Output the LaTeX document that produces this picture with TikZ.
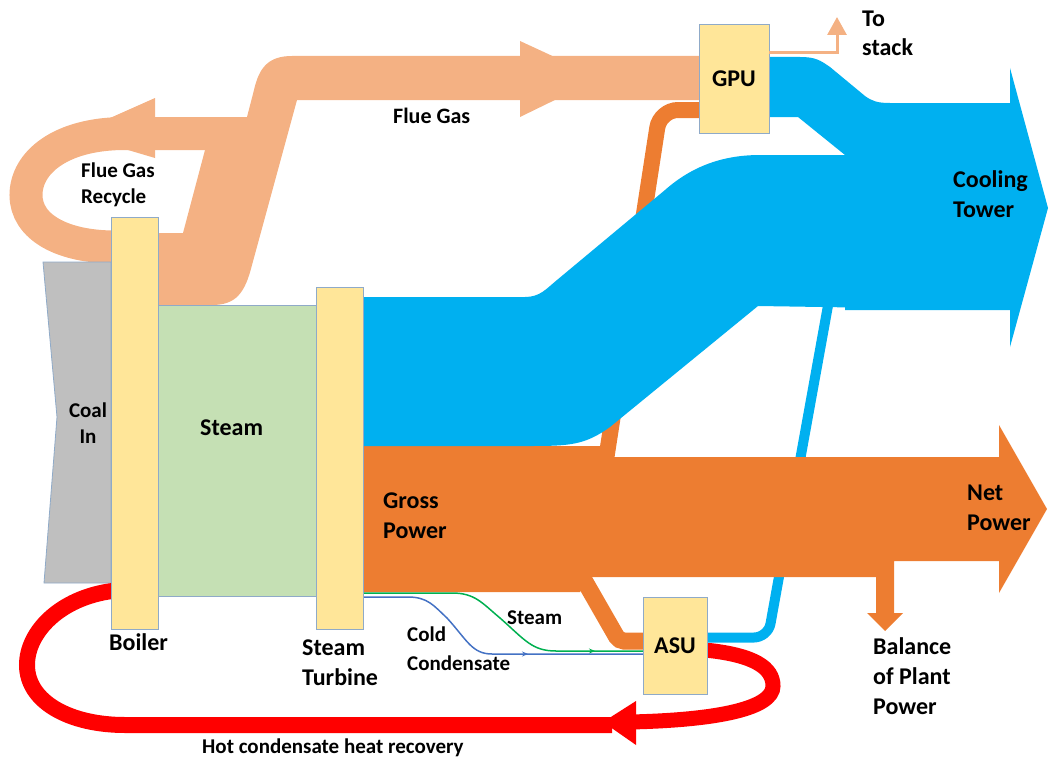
\documentclass[tikz,border=0pt]{standalone}
\usepackage{fontspec}
\setmainfont{Carlito}
\usetikzlibrary{arrows.meta,decorations.markings}
\definecolor{peach}{RGB}{244,177,131}
\definecolor{pwr}{RGB}{237,125,49}
\definecolor{cool}{RGB}{0,176,240}
\definecolor{boxy}{RGB}{255,230,153}
\definecolor{stm}{RGB}{197,224,180}
\definecolor{coalgray}{RGB}{191,191,191}
\definecolor{edge}{RGB}{143,170,200}
\definecolor{hotred}{RGB}{255,0,0}
\definecolor{gline}{RGB}{0,176,80}
\definecolor{bline}{RGB}{68,114,196}
\begin{document}
\begin{tikzpicture}[x=1pt,y=-1pt,
  lbl/.style={inner sep=0pt, anchor=base west, font=\bfseries\fontsize{24}{28}\selectfont},
  slbl/.style={inner sep=0pt, anchor=base west, font=\bfseries\fontsize{21}{25}\selectfont},
  unit/.style={draw=edge, line width=0.8pt, fill=boxy, inner sep=0pt, font=\bfseries\fontsize{24}{28}\selectfont},
  outl/.style={draw=edge, line width=0.8pt},
  midarrow/.style={postaction={decorate, decoration={markings, mark=at position #1 with {\arrow{Stealth[length=6pt,width=5pt]}}}}}
]
\useasboundingbox (0,0) rectangle (1049,760);

% ---------- flue gas (peach) ----------
\draw[peach, line width=33pt] (252,133.5) -- (125,133.5)
  .. controls (60,133.5) and (26,163) .. (26,195)
  .. controls (26,227) and (62,247) .. (115,247);
\fill[peach] (155,98) -- (74,134) -- (155,158) -- cycle;
\fill[peach] (158,233) -- (183,233) -- (205,150) -- (247,117) -- (254,90)
  .. controls (259,68) and (268,56) .. (292,56) -- (700,56) -- (700,100) -- (297,100)
  -- (252,265) .. controls (245,293) and (236,305) .. (212,305) -- (158,305) -- cycle;
\fill[peach] (520,41) -- (600,78) -- (520,117) -- cycle;

% ---------- coal in ----------
\filldraw[fill=coalgray, outl] (43,262) -- (111,262) -- (111,583) -- (44,583) -- (57,417) -- cycle;

% ---------- hot condensate (red) ----------
\draw[hotred, line width=16pt] (112,591) .. controls (60,598) and (27,632) .. (27,665)
  .. controls (27,702) and (70,725) .. (125,725) -- (612,725);
\draw[hotred, line width=15pt] (705,650) .. controls (755,655) and (773,668) .. (773,686)
  .. controls (773,708) and (720,720) .. (630,722);
\fill[hotred] (636,701) -- (603,722) -- (636,745) -- cycle;

% ---------- power branches ----------
\draw[pwr, line width=16pt, rounded corners=18pt] (606,460) -- (660,110) -- (702,110);
\draw[pwr, line width=17pt, rounded corners=5pt] (584,580) -- (619,641) -- (646,641);

% ---------- ASU to cooling tower ----------
\draw[cool, line width=10pt, rounded corners=14pt] (705,637.5) -- (768,637.5) -- (829,300);

% ---------- gross / net power ----------
\fill[pwr] (363,446) -- (603,446) -- (610,457) -- (999,457) -- (999,425) -- (1047,509)
  -- (999,593) -- (999,561) -- (894,561) -- (894,613) -- (903,613) -- (885,631)
  -- (867,613) -- (876,613) -- (876,577) -- (590,577) -- (580,592) -- (363,592) -- cycle;

% ---------- cooling (blue) ----------
\fill[cool] (363,297) -- (525,297) .. controls (540,297) and (546,289) .. (557,280)
  -- (665,190) .. controls (690,168) and (720,155) .. (760,155) -- (1012,155)
  -- (1012,310) -- (758,306) -- (610,427) .. controls (585,445) and (570,446) .. (530,446)
  -- (363,446) -- cycle;
\fill[cool] (769,57) -- (800,57) .. controls (815,57) and (820,60) .. (830,67) -- (865,96)
  .. controls (872,101) and (877,103) .. (890,103) -- (1010,103) -- (1010,68) -- (1048,208)
  -- (1010,347) -- (1010,310) -- (845,310) -- (845,155) -- (798,117) -- (769,117) -- cycle;

% ---------- steam ----------
\filldraw[fill=stm, outl] (158,305) rectangle (316,596);

% ---------- thin lines to ASU ----------
\draw[gline, line width=1.5pt, midarrow=-48pt] (363,593) -- (452,593)
  .. controls (475,593) and (482,603) .. (500,618)
  .. controls (525,640) and (532,651) .. (556,651) -- (643,651);
\draw[bline, line width=1.5pt, midarrow=-115pt] (363,597) -- (408,597)
  .. controls (428,597) and (434,606) .. (447,618)
  .. controls (467,640) and (472,654) .. (492,654) -- (643,654);

% ---------- units ----------
\node[unit, minimum width=47pt, minimum height=412pt] (boiler) at (134.5,423) {};
\node[unit, minimum width=47pt, minimum height=342pt] (turbine) at (339.5,458) {};
\node[unit, minimum width=70pt, minimum height=109pt] (gpu) at (734,78.5) {GPU};
\node[unit, minimum width=64pt, minimum height=97pt] (asu) at (675,645.5) {ASU};

% ---------- to stack ----------
\draw[peach, line width=3pt, -{Triangle[length=18pt,width=19pt]}] (769,53) -- (837,53) -- (837,17);

% ---------- labels ----------
\node[lbl] (tfg) at (393,123) {\fontsize{22}{26}\selectfont Flue Gas};
\node[slbl] (trc1) at (81,177) {Flue Gas};
\node[slbl] (trc2) at (81,203) {Recycle};
\node[slbl, anchor=base] (tcoal1) at (88,417) {Coal};
\node[slbl, anchor=base] (tcoal2) at (88,443) {In};
\node[lbl] (tsteam) at (200,435) {Steam};
\node[lbl] (tboiler) at (109,650) {Boiler};
\node[lbl] (tst1) at (302,655) {Steam};
\node[lbl] (tst2) at (302,685) {Turbine};
\node[lbl] (tgp1) at (383,508) {Gross};
\node[lbl] (tgp2) at (383,538) {Power};
\node[lbl] (tnp1) at (967,500) {Net};
\node[lbl] (tnp2) at (967,530) {Power};
\node[lbl] (tbp1) at (873,654) {Balance};
\node[lbl] (tbp2) at (873,684) {of Plant};
\node[lbl] (tbp3) at (873,714) {Power};
\node[lbl] (tct1) at (953,187) {Cooling};
\node[lbl] (tct2) at (953,217) {Tower};
\node[lbl] (tts1) at (862,27) {To};
\node[lbl] (tts2) at (862,56) {stack};
\node[slbl] (thot) at (202,753) {Hot condensate heat recovery};
\node[slbl] (tls) at (507,624) {Steam};
\node[slbl] (tcc1) at (407,641) {Cold};
\node[slbl] (tcc2) at (407,670) {Condensate};
\end{tikzpicture}
\end{document}
